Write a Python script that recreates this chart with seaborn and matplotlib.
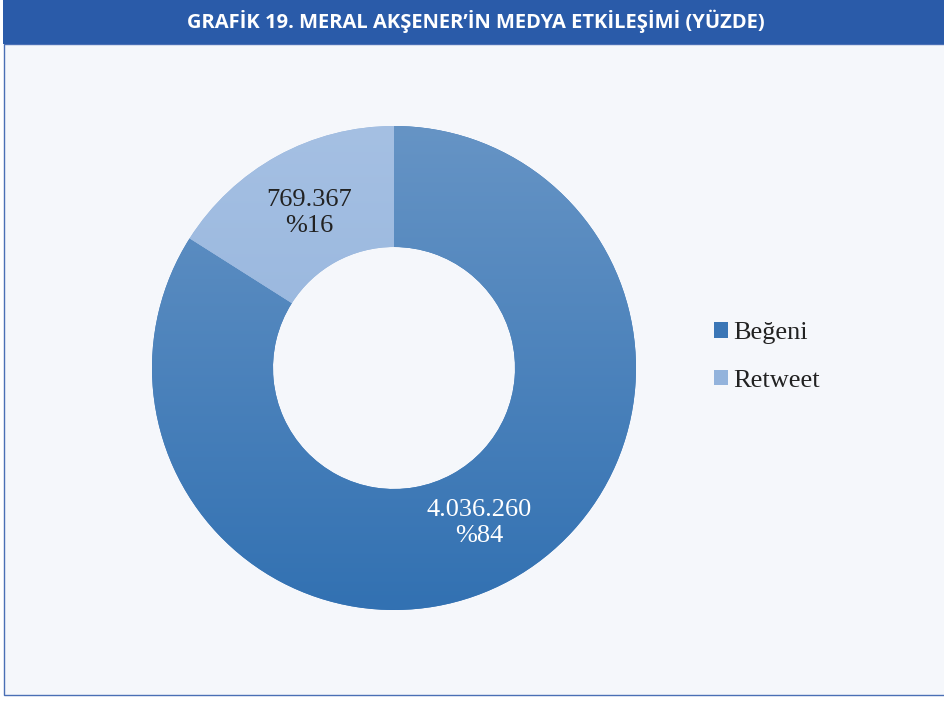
import matplotlib
matplotlib.use("Agg")
import matplotlib.pyplot as plt
import numpy as np
import seaborn as sns
from matplotlib.colors import LinearSegmentedColormap
from matplotlib.patches import Patch, Rectangle

categories = ["Beğeni", "Retweet"]
counts = [4036260, 769367]
percents = [84, 16]
title = "GRAFİK 19. MERAL AKŞENER’İN MEDYA ETKİLEŞİMİ (YÜZDE)"

base_colors = ["#3a76b6", "#93b3dc"]
# (top, bottom) colours of the vertical gradient in each slice
gradients = [("#6694c5", "#3271b2"), ("#a5c0e3", "#8badd9")]
label_colors = ["white", "#222222"]

sns.set_theme(style="white")
plt.rcParams["font.family"] = ["Liberation Serif", "DejaVu Serif"]

W, H = 944, 702
fig = plt.figure(figsize=(W / 100, H / 100), dpi=100)
fig.patch.set_facecolor("white")

# panel + title banner (behind the axes)
fig.patches.append(Rectangle((4 / W, 7 / H), 950 / W, 651 / H, transform=fig.transFigure,
                             facecolor="#f5f7fb", edgecolor="#4a6fb5", lw=1, zorder=-2))
fig.patches.append(Rectangle((3 / W, 658 / H), 950 / W, 50 / H, transform=fig.transFigure,
                             facecolor="#2a5ba9", edgecolor="none", zorder=-1))
fig.text(476 / W, 681 / H, title, color="white", ha="center", va="center",
         fontsize=14.5, fontweight="bold", family=["Open Sans", "DejaVu Sans"])

# donut
r = 242
ax = fig.add_axes([(394 - r) / W, (702 - 368 - r) / H, 2 * r / W, 2 * r / H])
labels_iter = iter([f"{c:,}".replace(",", ".") + f"\n%{p}" for c, p in zip(counts, percents)])
wedges, _, autotexts = ax.pie(
    counts, colors=base_colors, startangle=90, counterclock=False, radius=1,
    autopct=lambda pct: next(labels_iter), pctdistance=0.73,
    wedgeprops=dict(width=0.5, linewidth=0),
    textprops=dict(fontsize=19, linespacing=1.25))
ax.axis("off")

grad = np.linspace(1, 0, 256).reshape(-1, 1)
for w, (top, bottom) in zip(wedges, gradients):
    cmap = LinearSegmentedColormap.from_list("g", [bottom, top])
    im = ax.imshow(grad, cmap=cmap, extent=(-1, 1, -1, 1), aspect="auto",
                   zorder=w.get_zorder() + 0.5)
    im.set_clip_path(w)
for t, c in zip(autotexts, label_colors):
    t.set_color(c)
    t.set_zorder(10)
ax.set_xlim(-1, 1)
ax.set_ylim(-1, 1)

handles = [Patch(facecolor=c, edgecolor="none") for c in base_colors]
fig.legend(handles, categories, loc="center left", bbox_to_anchor=(690 / W, 1 - 357 / H),
           frameon=False, fontsize=19, handlelength=0.55, handleheight=0.55,
           handletextpad=0.2, labelspacing=0.95, labelcolor="#222222")

fig.savefig("out.png", dpi=100)
